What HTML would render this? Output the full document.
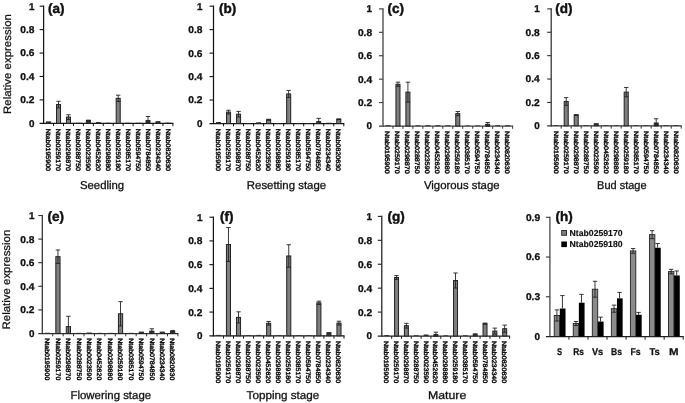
<!DOCTYPE html>
<html lang="en">
<head>
<meta charset="utf-8">
<title>Relative expression</title>
<style>
html,body{margin:0;padding:0;background:#fff;}
body{width:685px;height:403px;overflow:hidden;}
svg{display:block;font-family:'Liberation Sans', sans-serif;fill:#111;text-rendering:geometricPrecision;}
</style>
</head>
<body>
<svg width="685" height="403" viewBox="0 0 685 403" font-family="'Liberation Sans', sans-serif">
<rect x="0" y="0" width="685" height="403" fill="#ffffff"/>
<line x1="43.60" y1="5.60" x2="43.60" y2="123.90" stroke="#141414" stroke-width="1.25"/>
<line x1="39.60" y1="123.30" x2="173.40" y2="123.30" stroke="#141414" stroke-width="1.25"/>
<line x1="53.55" y1="123.30" x2="53.55" y2="126.10" stroke="#141414" stroke-width="1.0"/>
<line x1="63.49" y1="123.30" x2="63.49" y2="126.10" stroke="#141414" stroke-width="1.0"/>
<line x1="73.44" y1="123.30" x2="73.44" y2="126.10" stroke="#141414" stroke-width="1.0"/>
<line x1="83.38" y1="123.30" x2="83.38" y2="126.10" stroke="#141414" stroke-width="1.0"/>
<line x1="93.33" y1="123.30" x2="93.33" y2="126.10" stroke="#141414" stroke-width="1.0"/>
<line x1="103.28" y1="123.30" x2="103.28" y2="126.10" stroke="#141414" stroke-width="1.0"/>
<line x1="113.22" y1="123.30" x2="113.22" y2="126.10" stroke="#141414" stroke-width="1.0"/>
<line x1="123.17" y1="123.30" x2="123.17" y2="126.10" stroke="#141414" stroke-width="1.0"/>
<line x1="133.12" y1="123.30" x2="133.12" y2="126.10" stroke="#141414" stroke-width="1.0"/>
<line x1="143.06" y1="123.30" x2="143.06" y2="126.10" stroke="#141414" stroke-width="1.0"/>
<line x1="153.01" y1="123.30" x2="153.01" y2="126.10" stroke="#141414" stroke-width="1.0"/>
<line x1="162.95" y1="123.30" x2="162.95" y2="126.10" stroke="#141414" stroke-width="1.0"/>
<line x1="172.90" y1="123.30" x2="172.90" y2="126.10" stroke="#141414" stroke-width="1.0"/>
<line x1="39.60" y1="99.88" x2="43.60" y2="99.88" stroke="#141414" stroke-width="1.1"/>
<text x="20.3" y="103.3" textLength="14.2" lengthAdjust="spacingAndGlyphs" font-size="9.9" font-weight="bold" stroke="#111" stroke-width="0.3">0.2</text>
<line x1="39.60" y1="76.46" x2="43.60" y2="76.46" stroke="#141414" stroke-width="1.1"/>
<text x="20.3" y="79.9" textLength="14.2" lengthAdjust="spacingAndGlyphs" font-size="9.9" font-weight="bold" stroke="#111" stroke-width="0.3">0.4</text>
<line x1="39.60" y1="53.04" x2="43.60" y2="53.04" stroke="#141414" stroke-width="1.1"/>
<text x="20.3" y="56.4" textLength="14.2" lengthAdjust="spacingAndGlyphs" font-size="9.9" font-weight="bold" stroke="#111" stroke-width="0.3">0.6</text>
<line x1="39.60" y1="29.62" x2="43.60" y2="29.62" stroke="#141414" stroke-width="1.1"/>
<text x="20.3" y="33.0" textLength="14.2" lengthAdjust="spacingAndGlyphs" font-size="9.9" font-weight="bold" stroke="#111" stroke-width="0.3">0.8</text>
<line x1="39.60" y1="6.20" x2="43.60" y2="6.20" stroke="#141414" stroke-width="1.1"/>
<text x="34.5" y="9.6" text-anchor="end" font-size="9.9" font-weight="bold" stroke="#111" stroke-width="0.3">1</text>
<text x="34.5" y="126.7" text-anchor="end" font-size="9.9" font-weight="bold" stroke="#111" stroke-width="0.3">0</text>
<rect x="46.56" y="121.89" width="4.03" height="1.41" fill="#333" stroke="#222222" stroke-width="0.9"/>
<text transform="translate(46.17,128.70) rotate(90)" textLength="42.3" lengthAdjust="spacingAndGlyphs" font-size="6.4" stroke="#111" stroke-width="0.45">Ntab0195900</text>
<rect x="56.51" y="104.56" width="4.03" height="18.74" fill="#7f7f7f" stroke="#222222" stroke-width="1.0"/>
<line x1="58.52" y1="101.29" x2="58.52" y2="107.84" stroke="#222222" stroke-width="0.9"/>
<line x1="56.32" y1="101.29" x2="60.72" y2="101.29" stroke="#222222" stroke-width="0.9"/>
<line x1="56.32" y1="107.84" x2="60.72" y2="107.84" stroke="#222222" stroke-width="0.9"/>
<text transform="translate(56.12,128.70) rotate(90)" textLength="42.3" lengthAdjust="spacingAndGlyphs" font-size="6.4" stroke="#111" stroke-width="0.45">Ntab0259170</text>
<rect x="66.45" y="117.09" width="4.03" height="6.21" fill="#7f7f7f" stroke="#222222" stroke-width="1.0"/>
<line x1="68.47" y1="114.75" x2="68.47" y2="119.44" stroke="#222222" stroke-width="0.9"/>
<line x1="66.27" y1="114.75" x2="70.67" y2="114.75" stroke="#222222" stroke-width="0.9"/>
<line x1="66.27" y1="119.44" x2="70.67" y2="119.44" stroke="#222222" stroke-width="0.9"/>
<text transform="translate(66.07,128.70) rotate(90)" textLength="42.3" lengthAdjust="spacingAndGlyphs" font-size="6.4" stroke="#111" stroke-width="0.45">Ntab0298870</text>
<rect x="76.00" y="122.77" width="4.83" height="0.53" fill="#2a2a2a"/>
<text transform="translate(76.01,128.70) rotate(90)" textLength="42.3" lengthAdjust="spacingAndGlyphs" font-size="6.4" stroke="#111" stroke-width="0.45">Ntab0288750</text>
<rect x="86.34" y="120.49" width="4.03" height="2.81" fill="#333" stroke="#222222" stroke-width="0.9"/>
<line x1="88.36" y1="120.14" x2="88.36" y2="120.84" stroke="#222222" stroke-width="0.9"/>
<line x1="86.16" y1="120.14" x2="90.56" y2="120.14" stroke="#222222" stroke-width="0.9"/>
<line x1="86.16" y1="120.84" x2="90.56" y2="120.84" stroke="#222222" stroke-width="0.9"/>
<text transform="translate(85.96,128.70) rotate(90)" textLength="42.3" lengthAdjust="spacingAndGlyphs" font-size="6.4" stroke="#111" stroke-width="0.45">Ntab0023590</text>
<rect x="95.89" y="122.06" width="4.83" height="1.24" fill="#2a2a2a"/>
<text transform="translate(95.90,128.70) rotate(90)" textLength="42.3" lengthAdjust="spacingAndGlyphs" font-size="6.4" stroke="#111" stroke-width="0.45">Ntab0452620</text>
<rect x="105.84" y="122.77" width="4.83" height="0.53" fill="#2a2a2a"/>
<text transform="translate(105.85,128.70) rotate(90)" textLength="42.3" lengthAdjust="spacingAndGlyphs" font-size="6.4" stroke="#111" stroke-width="0.45">Ntab0298880</text>
<rect x="116.18" y="98.36" width="4.03" height="24.94" fill="#7f7f7f" stroke="#222222" stroke-width="1.0"/>
<line x1="118.20" y1="95.20" x2="118.20" y2="101.52" stroke="#222222" stroke-width="0.9"/>
<line x1="116.00" y1="95.20" x2="120.40" y2="95.20" stroke="#222222" stroke-width="0.9"/>
<line x1="116.00" y1="101.52" x2="120.40" y2="101.52" stroke="#222222" stroke-width="0.9"/>
<text transform="translate(115.80,128.70) rotate(90)" textLength="42.3" lengthAdjust="spacingAndGlyphs" font-size="6.4" stroke="#111" stroke-width="0.45">Ntab0259180</text>
<rect x="125.73" y="122.77" width="4.83" height="0.53" fill="#2a2a2a"/>
<text transform="translate(125.74,128.70) rotate(90)" textLength="42.3" lengthAdjust="spacingAndGlyphs" font-size="6.4" stroke="#111" stroke-width="0.45">Ntab0385170</text>
<rect x="135.67" y="122.77" width="4.83" height="0.53" fill="#2a2a2a"/>
<text transform="translate(135.69,128.70) rotate(90)" textLength="42.3" lengthAdjust="spacingAndGlyphs" font-size="6.4" stroke="#111" stroke-width="0.45">Ntab0594750</text>
<rect x="146.02" y="120.49" width="4.03" height="2.81" fill="#333" stroke="#222222" stroke-width="0.9"/>
<line x1="148.03" y1="116.51" x2="148.03" y2="123.30" stroke="#222222" stroke-width="0.9"/>
<line x1="145.83" y1="116.51" x2="150.23" y2="116.51" stroke="#222222" stroke-width="0.9"/>
<line x1="145.83" y1="123.30" x2="150.23" y2="123.30" stroke="#222222" stroke-width="0.9"/>
<text transform="translate(145.63,128.70) rotate(90)" textLength="42.3" lengthAdjust="spacingAndGlyphs" font-size="6.4" stroke="#111" stroke-width="0.45">Ntab0784850</text>
<rect x="155.97" y="121.66" width="4.03" height="1.64" fill="#333" stroke="#222222" stroke-width="0.9"/>
<text transform="translate(155.58,128.70) rotate(90)" textLength="42.3" lengthAdjust="spacingAndGlyphs" font-size="6.4" stroke="#111" stroke-width="0.45">Ntab0234340</text>
<rect x="165.51" y="122.65" width="4.83" height="0.65" fill="#2a2a2a"/>
<text transform="translate(165.53,128.70) rotate(90)" textLength="42.3" lengthAdjust="spacingAndGlyphs" font-size="6.4" stroke="#111" stroke-width="0.45">Ntab0820630</text>
<text x="47.9" y="13.0" font-size="13.5" font-weight="bold" stroke="#111" stroke-width="0.45">(a)</text>
<text x="79.9" y="188.8" textLength="44.3" lengthAdjust="spacingAndGlyphs" font-size="11.4" stroke="#111" stroke-width="0.3">Seedling</text>
<line x1="213.50" y1="5.60" x2="213.50" y2="124.10" stroke="#141414" stroke-width="1.25"/>
<line x1="209.50" y1="123.50" x2="344.30" y2="123.50" stroke="#141414" stroke-width="1.25"/>
<line x1="223.52" y1="123.50" x2="223.52" y2="126.30" stroke="#141414" stroke-width="1.0"/>
<line x1="233.55" y1="123.50" x2="233.55" y2="126.30" stroke="#141414" stroke-width="1.0"/>
<line x1="243.57" y1="123.50" x2="243.57" y2="126.30" stroke="#141414" stroke-width="1.0"/>
<line x1="253.59" y1="123.50" x2="253.59" y2="126.30" stroke="#141414" stroke-width="1.0"/>
<line x1="263.62" y1="123.50" x2="263.62" y2="126.30" stroke="#141414" stroke-width="1.0"/>
<line x1="273.64" y1="123.50" x2="273.64" y2="126.30" stroke="#141414" stroke-width="1.0"/>
<line x1="283.66" y1="123.50" x2="283.66" y2="126.30" stroke="#141414" stroke-width="1.0"/>
<line x1="293.68" y1="123.50" x2="293.68" y2="126.30" stroke="#141414" stroke-width="1.0"/>
<line x1="303.71" y1="123.50" x2="303.71" y2="126.30" stroke="#141414" stroke-width="1.0"/>
<line x1="313.73" y1="123.50" x2="313.73" y2="126.30" stroke="#141414" stroke-width="1.0"/>
<line x1="323.75" y1="123.50" x2="323.75" y2="126.30" stroke="#141414" stroke-width="1.0"/>
<line x1="333.78" y1="123.50" x2="333.78" y2="126.30" stroke="#141414" stroke-width="1.0"/>
<line x1="343.80" y1="123.50" x2="343.80" y2="126.30" stroke="#141414" stroke-width="1.0"/>
<line x1="209.50" y1="100.04" x2="213.50" y2="100.04" stroke="#141414" stroke-width="1.1"/>
<text x="188.3" y="103.4" textLength="14.2" lengthAdjust="spacingAndGlyphs" font-size="9.9" font-weight="bold" stroke="#111" stroke-width="0.3">0.2</text>
<line x1="209.50" y1="76.58" x2="213.50" y2="76.58" stroke="#141414" stroke-width="1.1"/>
<text x="188.3" y="80.0" textLength="14.2" lengthAdjust="spacingAndGlyphs" font-size="9.9" font-weight="bold" stroke="#111" stroke-width="0.3">0.4</text>
<line x1="209.50" y1="53.12" x2="213.50" y2="53.12" stroke="#141414" stroke-width="1.1"/>
<text x="188.3" y="56.5" textLength="14.2" lengthAdjust="spacingAndGlyphs" font-size="9.9" font-weight="bold" stroke="#111" stroke-width="0.3">0.6</text>
<line x1="209.50" y1="29.66" x2="213.50" y2="29.66" stroke="#141414" stroke-width="1.1"/>
<text x="188.3" y="33.1" textLength="14.2" lengthAdjust="spacingAndGlyphs" font-size="9.9" font-weight="bold" stroke="#111" stroke-width="0.3">0.8</text>
<line x1="209.50" y1="6.20" x2="213.50" y2="6.20" stroke="#141414" stroke-width="1.1"/>
<text x="202.5" y="9.6" text-anchor="end" font-size="9.9" font-weight="bold" stroke="#111" stroke-width="0.3">1</text>
<text x="202.5" y="126.9" text-anchor="end" font-size="9.9" font-weight="bold" stroke="#111" stroke-width="0.3">0</text>
<rect x="216.08" y="122.03" width="4.86" height="1.47" fill="#2a2a2a"/>
<text transform="translate(216.11,128.70) rotate(90)" textLength="42.3" lengthAdjust="spacingAndGlyphs" font-size="6.4" stroke="#111" stroke-width="0.45">Ntab0195900</text>
<rect x="226.50" y="112.12" width="4.06" height="11.38" fill="#7f7f7f" stroke="#222222" stroke-width="1.0"/>
<line x1="228.53" y1="110.25" x2="228.53" y2="114.00" stroke="#222222" stroke-width="0.9"/>
<line x1="226.33" y1="110.25" x2="230.73" y2="110.25" stroke="#222222" stroke-width="0.9"/>
<line x1="226.33" y1="114.00" x2="230.73" y2="114.00" stroke="#222222" stroke-width="0.9"/>
<text transform="translate(226.13,128.70) rotate(90)" textLength="42.3" lengthAdjust="spacingAndGlyphs" font-size="6.4" stroke="#111" stroke-width="0.45">Ntab0259170</text>
<rect x="236.53" y="114.23" width="4.06" height="9.27" fill="#7f7f7f" stroke="#222222" stroke-width="1.0"/>
<line x1="238.56" y1="111.42" x2="238.56" y2="117.05" stroke="#222222" stroke-width="0.9"/>
<line x1="236.36" y1="111.42" x2="240.76" y2="111.42" stroke="#222222" stroke-width="0.9"/>
<line x1="236.36" y1="117.05" x2="240.76" y2="117.05" stroke="#222222" stroke-width="0.9"/>
<text transform="translate(236.16,128.70) rotate(90)" textLength="42.3" lengthAdjust="spacingAndGlyphs" font-size="6.4" stroke="#111" stroke-width="0.45">Ntab0298870</text>
<rect x="246.15" y="122.97" width="4.86" height="0.53" fill="#2a2a2a"/>
<text transform="translate(246.18,128.70) rotate(90)" textLength="42.3" lengthAdjust="spacingAndGlyphs" font-size="6.4" stroke="#111" stroke-width="0.45">Ntab0288750</text>
<rect x="256.17" y="122.26" width="4.86" height="1.24" fill="#2a2a2a"/>
<text transform="translate(256.20,128.70) rotate(90)" textLength="42.3" lengthAdjust="spacingAndGlyphs" font-size="6.4" stroke="#111" stroke-width="0.45">Ntab0452620</text>
<rect x="266.60" y="119.75" width="4.06" height="3.75" fill="#7f7f7f" stroke="#222222" stroke-width="1.0"/>
<line x1="268.63" y1="119.28" x2="268.63" y2="120.22" stroke="#222222" stroke-width="0.9"/>
<line x1="266.43" y1="119.28" x2="270.83" y2="119.28" stroke="#222222" stroke-width="0.9"/>
<line x1="266.43" y1="120.22" x2="270.83" y2="120.22" stroke="#222222" stroke-width="0.9"/>
<text transform="translate(266.23,128.70) rotate(90)" textLength="42.3" lengthAdjust="spacingAndGlyphs" font-size="6.4" stroke="#111" stroke-width="0.45">Ntab0023590</text>
<rect x="276.22" y="122.97" width="4.86" height="0.53" fill="#2a2a2a"/>
<text transform="translate(276.25,128.70) rotate(90)" textLength="42.3" lengthAdjust="spacingAndGlyphs" font-size="6.4" stroke="#111" stroke-width="0.45">Ntab0298880</text>
<rect x="286.64" y="93.94" width="4.06" height="29.56" fill="#7f7f7f" stroke="#222222" stroke-width="1.0"/>
<line x1="288.67" y1="90.42" x2="288.67" y2="97.46" stroke="#222222" stroke-width="0.9"/>
<line x1="286.47" y1="90.42" x2="290.87" y2="90.42" stroke="#222222" stroke-width="0.9"/>
<line x1="286.47" y1="97.46" x2="290.87" y2="97.46" stroke="#222222" stroke-width="0.9"/>
<text transform="translate(286.27,128.70) rotate(90)" textLength="42.3" lengthAdjust="spacingAndGlyphs" font-size="6.4" stroke="#111" stroke-width="0.45">Ntab0259180</text>
<rect x="296.27" y="122.97" width="4.86" height="0.53" fill="#2a2a2a"/>
<text transform="translate(296.30,128.70) rotate(90)" textLength="42.3" lengthAdjust="spacingAndGlyphs" font-size="6.4" stroke="#111" stroke-width="0.45">Ntab0385170</text>
<rect x="306.29" y="122.97" width="4.86" height="0.53" fill="#2a2a2a"/>
<text transform="translate(306.32,128.70) rotate(90)" textLength="42.3" lengthAdjust="spacingAndGlyphs" font-size="6.4" stroke="#111" stroke-width="0.45">Ntab0594750</text>
<rect x="316.71" y="121.62" width="4.06" height="1.88" fill="#333" stroke="#222222" stroke-width="0.9"/>
<line x1="318.74" y1="118.34" x2="318.74" y2="123.50" stroke="#222222" stroke-width="0.9"/>
<line x1="316.54" y1="118.34" x2="320.94" y2="118.34" stroke="#222222" stroke-width="0.9"/>
<line x1="316.54" y1="123.50" x2="320.94" y2="123.50" stroke="#222222" stroke-width="0.9"/>
<text transform="translate(316.34,128.70) rotate(90)" textLength="42.3" lengthAdjust="spacingAndGlyphs" font-size="6.4" stroke="#111" stroke-width="0.45">Ntab0784850</text>
<rect x="326.34" y="122.73" width="4.86" height="0.77" fill="#2a2a2a"/>
<text transform="translate(326.37,128.70) rotate(90)" textLength="42.3" lengthAdjust="spacingAndGlyphs" font-size="6.4" stroke="#111" stroke-width="0.45">Ntab0234340</text>
<rect x="336.76" y="119.28" width="4.06" height="4.22" fill="#7f7f7f" stroke="#222222" stroke-width="1.0"/>
<line x1="338.79" y1="118.93" x2="338.79" y2="119.63" stroke="#222222" stroke-width="0.9"/>
<line x1="336.59" y1="118.93" x2="340.99" y2="118.93" stroke="#222222" stroke-width="0.9"/>
<line x1="336.59" y1="119.63" x2="340.99" y2="119.63" stroke="#222222" stroke-width="0.9"/>
<text transform="translate(336.39,128.70) rotate(90)" textLength="42.3" lengthAdjust="spacingAndGlyphs" font-size="6.4" stroke="#111" stroke-width="0.45">Ntab0820630</text>
<text x="218.9" y="13.0" font-size="13.5" font-weight="bold" stroke="#111" stroke-width="0.45">(b)</text>
<text x="246.8" y="188.8" textLength="79.3" lengthAdjust="spacingAndGlyphs" font-size="11.4" stroke="#111" stroke-width="0.3">Resetting stage</text>
<line x1="383.00" y1="8.30" x2="383.00" y2="126.60" stroke="#3a3a3a" stroke-width="1.25"/>
<line x1="379.00" y1="126.00" x2="513.10" y2="126.00" stroke="#3a3a3a" stroke-width="1.25"/>
<line x1="392.97" y1="126.00" x2="392.97" y2="128.80" stroke="#3a3a3a" stroke-width="1.0"/>
<line x1="402.94" y1="126.00" x2="402.94" y2="128.80" stroke="#3a3a3a" stroke-width="1.0"/>
<line x1="412.91" y1="126.00" x2="412.91" y2="128.80" stroke="#3a3a3a" stroke-width="1.0"/>
<line x1="422.88" y1="126.00" x2="422.88" y2="128.80" stroke="#3a3a3a" stroke-width="1.0"/>
<line x1="432.85" y1="126.00" x2="432.85" y2="128.80" stroke="#3a3a3a" stroke-width="1.0"/>
<line x1="442.82" y1="126.00" x2="442.82" y2="128.80" stroke="#3a3a3a" stroke-width="1.0"/>
<line x1="452.78" y1="126.00" x2="452.78" y2="128.80" stroke="#3a3a3a" stroke-width="1.0"/>
<line x1="462.75" y1="126.00" x2="462.75" y2="128.80" stroke="#3a3a3a" stroke-width="1.0"/>
<line x1="472.72" y1="126.00" x2="472.72" y2="128.80" stroke="#3a3a3a" stroke-width="1.0"/>
<line x1="482.69" y1="126.00" x2="482.69" y2="128.80" stroke="#3a3a3a" stroke-width="1.0"/>
<line x1="492.66" y1="126.00" x2="492.66" y2="128.80" stroke="#3a3a3a" stroke-width="1.0"/>
<line x1="502.63" y1="126.00" x2="502.63" y2="128.80" stroke="#3a3a3a" stroke-width="1.0"/>
<line x1="512.60" y1="126.00" x2="512.60" y2="128.80" stroke="#3a3a3a" stroke-width="1.0"/>
<line x1="379.00" y1="102.58" x2="383.00" y2="102.58" stroke="#3a3a3a" stroke-width="1.1"/>
<text x="357.9" y="106.0" textLength="14.2" lengthAdjust="spacingAndGlyphs" font-size="9.9" font-weight="bold" stroke="#111" stroke-width="0.3">0.2</text>
<line x1="379.00" y1="79.16" x2="383.00" y2="79.16" stroke="#3a3a3a" stroke-width="1.1"/>
<text x="357.9" y="82.6" textLength="14.2" lengthAdjust="spacingAndGlyphs" font-size="9.9" font-weight="bold" stroke="#111" stroke-width="0.3">0.4</text>
<line x1="379.00" y1="55.74" x2="383.00" y2="55.74" stroke="#3a3a3a" stroke-width="1.1"/>
<text x="357.9" y="59.1" textLength="14.2" lengthAdjust="spacingAndGlyphs" font-size="9.9" font-weight="bold" stroke="#111" stroke-width="0.3">0.6</text>
<line x1="379.00" y1="32.32" x2="383.00" y2="32.32" stroke="#3a3a3a" stroke-width="1.1"/>
<text x="357.9" y="35.7" textLength="14.2" lengthAdjust="spacingAndGlyphs" font-size="9.9" font-weight="bold" stroke="#111" stroke-width="0.3">0.8</text>
<line x1="379.00" y1="8.90" x2="383.00" y2="8.90" stroke="#3a3a3a" stroke-width="1.1"/>
<text x="372.1" y="12.3" text-anchor="end" font-size="9.9" font-weight="bold" stroke="#111" stroke-width="0.3">1</text>
<text x="372.1" y="129.4" text-anchor="end" font-size="9.9" font-weight="bold" stroke="#111" stroke-width="0.3">0</text>
<rect x="385.57" y="125.23" width="4.84" height="0.77" fill="#2a2a2a"/>
<text transform="translate(385.48,131.10) rotate(90)" textLength="42.5" lengthAdjust="spacingAndGlyphs" font-size="6.4" stroke="#111" stroke-width="0.45">Ntab0195900</text>
<rect x="395.94" y="84.31" width="4.04" height="41.69" fill="#7f7f7f" stroke="#222222" stroke-width="1.0"/>
<line x1="397.95" y1="82.20" x2="397.95" y2="86.42" stroke="#222222" stroke-width="0.9"/>
<line x1="395.75" y1="82.20" x2="400.15" y2="82.20" stroke="#222222" stroke-width="0.9"/>
<line x1="395.75" y1="86.42" x2="400.15" y2="86.42" stroke="#222222" stroke-width="0.9"/>
<text transform="translate(395.45,131.10) rotate(90)" textLength="42.5" lengthAdjust="spacingAndGlyphs" font-size="6.4" stroke="#111" stroke-width="0.45">Ntab0259170</text>
<rect x="405.90" y="92.16" width="4.04" height="33.84" fill="#7f7f7f" stroke="#222222" stroke-width="1.0"/>
<line x1="407.92" y1="82.20" x2="407.92" y2="102.11" stroke="#222222" stroke-width="0.9"/>
<line x1="405.72" y1="82.20" x2="410.12" y2="82.20" stroke="#222222" stroke-width="0.9"/>
<line x1="405.72" y1="102.11" x2="410.12" y2="102.11" stroke="#222222" stroke-width="0.9"/>
<text transform="translate(405.42,131.10) rotate(90)" textLength="42.5" lengthAdjust="spacingAndGlyphs" font-size="6.4" stroke="#111" stroke-width="0.45">Ntab0298870</text>
<rect x="415.47" y="125.35" width="4.84" height="0.65" fill="#2a2a2a"/>
<text transform="translate(415.39,131.10) rotate(90)" textLength="42.5" lengthAdjust="spacingAndGlyphs" font-size="6.4" stroke="#111" stroke-width="0.45">Ntab0288750</text>
<rect x="425.44" y="125.23" width="4.84" height="0.77" fill="#2a2a2a"/>
<text transform="translate(425.36,131.10) rotate(90)" textLength="42.5" lengthAdjust="spacingAndGlyphs" font-size="6.4" stroke="#111" stroke-width="0.45">Ntab0023590</text>
<rect x="435.41" y="125.23" width="4.84" height="0.77" fill="#2a2a2a"/>
<text transform="translate(435.33,131.10) rotate(90)" textLength="42.5" lengthAdjust="spacingAndGlyphs" font-size="6.4" stroke="#111" stroke-width="0.45">Ntab0452620</text>
<rect x="445.38" y="125.35" width="4.84" height="0.65" fill="#2a2a2a"/>
<text transform="translate(445.30,131.10) rotate(90)" textLength="42.5" lengthAdjust="spacingAndGlyphs" font-size="6.4" stroke="#111" stroke-width="0.45">Ntab0298880</text>
<rect x="455.75" y="113.59" width="4.04" height="12.41" fill="#7f7f7f" stroke="#222222" stroke-width="1.0"/>
<line x1="457.77" y1="111.48" x2="457.77" y2="115.70" stroke="#222222" stroke-width="0.9"/>
<line x1="455.57" y1="111.48" x2="459.97" y2="111.48" stroke="#222222" stroke-width="0.9"/>
<line x1="455.57" y1="115.70" x2="459.97" y2="115.70" stroke="#222222" stroke-width="0.9"/>
<text transform="translate(455.27,131.10) rotate(90)" textLength="42.5" lengthAdjust="spacingAndGlyphs" font-size="6.4" stroke="#111" stroke-width="0.45">Ntab0259180</text>
<rect x="465.32" y="125.47" width="4.84" height="0.53" fill="#2a2a2a"/>
<text transform="translate(465.24,131.10) rotate(90)" textLength="42.5" lengthAdjust="spacingAndGlyphs" font-size="6.4" stroke="#111" stroke-width="0.45">Ntab0385170</text>
<rect x="475.29" y="125.47" width="4.84" height="0.53" fill="#2a2a2a"/>
<text transform="translate(475.21,131.10) rotate(90)" textLength="42.5" lengthAdjust="spacingAndGlyphs" font-size="6.4" stroke="#111" stroke-width="0.45">Ntab0594750</text>
<rect x="485.66" y="124.24" width="4.04" height="1.76" fill="#333" stroke="#222222" stroke-width="0.9"/>
<line x1="487.68" y1="122.49" x2="487.68" y2="126.00" stroke="#222222" stroke-width="0.9"/>
<line x1="485.48" y1="122.49" x2="489.88" y2="122.49" stroke="#222222" stroke-width="0.9"/>
<line x1="485.48" y1="126.00" x2="489.88" y2="126.00" stroke="#222222" stroke-width="0.9"/>
<text transform="translate(485.18,131.10) rotate(90)" textLength="42.5" lengthAdjust="spacingAndGlyphs" font-size="6.4" stroke="#111" stroke-width="0.45">Ntab0784850</text>
<rect x="495.23" y="125.23" width="4.84" height="0.77" fill="#2a2a2a"/>
<text transform="translate(495.15,131.10) rotate(90)" textLength="42.5" lengthAdjust="spacingAndGlyphs" font-size="6.4" stroke="#111" stroke-width="0.45">Ntab0234340</text>
<rect x="505.20" y="125.23" width="4.84" height="0.77" fill="#2a2a2a"/>
<text transform="translate(505.12,131.10) rotate(90)" textLength="42.5" lengthAdjust="spacingAndGlyphs" font-size="6.4" stroke="#111" stroke-width="0.45">Ntab0820630</text>
<text x="387.6" y="13.0" font-size="13.5" font-weight="bold" stroke="#111" stroke-width="0.45">(c)</text>
<text x="423.9" y="188.8" textLength="75.7" lengthAdjust="spacingAndGlyphs" font-size="11.4" stroke="#111" stroke-width="0.3">Vigorous stage</text>
<line x1="551.20" y1="8.30" x2="551.20" y2="126.40" stroke="#303030" stroke-width="1.25"/>
<line x1="547.20" y1="125.80" x2="681.70" y2="125.80" stroke="#303030" stroke-width="1.25"/>
<line x1="561.20" y1="125.80" x2="561.20" y2="128.60" stroke="#303030" stroke-width="1.0"/>
<line x1="571.20" y1="125.80" x2="571.20" y2="128.60" stroke="#303030" stroke-width="1.0"/>
<line x1="581.20" y1="125.80" x2="581.20" y2="128.60" stroke="#303030" stroke-width="1.0"/>
<line x1="591.20" y1="125.80" x2="591.20" y2="128.60" stroke="#303030" stroke-width="1.0"/>
<line x1="601.20" y1="125.80" x2="601.20" y2="128.60" stroke="#303030" stroke-width="1.0"/>
<line x1="611.20" y1="125.80" x2="611.20" y2="128.60" stroke="#303030" stroke-width="1.0"/>
<line x1="621.20" y1="125.80" x2="621.20" y2="128.60" stroke="#303030" stroke-width="1.0"/>
<line x1="631.20" y1="125.80" x2="631.20" y2="128.60" stroke="#303030" stroke-width="1.0"/>
<line x1="641.20" y1="125.80" x2="641.20" y2="128.60" stroke="#303030" stroke-width="1.0"/>
<line x1="651.20" y1="125.80" x2="651.20" y2="128.60" stroke="#303030" stroke-width="1.0"/>
<line x1="661.20" y1="125.80" x2="661.20" y2="128.60" stroke="#303030" stroke-width="1.0"/>
<line x1="671.20" y1="125.80" x2="671.20" y2="128.60" stroke="#303030" stroke-width="1.0"/>
<line x1="681.20" y1="125.80" x2="681.20" y2="128.60" stroke="#303030" stroke-width="1.0"/>
<line x1="547.20" y1="102.42" x2="551.20" y2="102.42" stroke="#303030" stroke-width="1.1"/>
<text x="525.6" y="105.8" textLength="14.2" lengthAdjust="spacingAndGlyphs" font-size="9.9" font-weight="bold" stroke="#111" stroke-width="0.3">0.2</text>
<line x1="547.20" y1="79.04" x2="551.20" y2="79.04" stroke="#303030" stroke-width="1.1"/>
<text x="525.6" y="82.4" textLength="14.2" lengthAdjust="spacingAndGlyphs" font-size="9.9" font-weight="bold" stroke="#111" stroke-width="0.3">0.4</text>
<line x1="547.20" y1="55.66" x2="551.20" y2="55.66" stroke="#303030" stroke-width="1.1"/>
<text x="525.6" y="59.1" textLength="14.2" lengthAdjust="spacingAndGlyphs" font-size="9.9" font-weight="bold" stroke="#111" stroke-width="0.3">0.6</text>
<line x1="547.20" y1="32.28" x2="551.20" y2="32.28" stroke="#303030" stroke-width="1.1"/>
<text x="525.6" y="35.7" textLength="14.2" lengthAdjust="spacingAndGlyphs" font-size="9.9" font-weight="bold" stroke="#111" stroke-width="0.3">0.8</text>
<line x1="547.20" y1="8.90" x2="551.20" y2="8.90" stroke="#303030" stroke-width="1.1"/>
<text x="539.8" y="12.3" text-anchor="end" font-size="9.9" font-weight="bold" stroke="#111" stroke-width="0.3">1</text>
<text x="539.8" y="129.2" text-anchor="end" font-size="9.9" font-weight="bold" stroke="#111" stroke-width="0.3">0</text>
<rect x="553.78" y="125.15" width="4.85" height="0.65" fill="#2a2a2a"/>
<text transform="translate(553.70,131.10) rotate(90)" textLength="42.5" lengthAdjust="spacingAndGlyphs" font-size="6.4" stroke="#111" stroke-width="0.45">Ntab0195900</text>
<rect x="564.18" y="101.48" width="4.05" height="24.32" fill="#7f7f7f" stroke="#222222" stroke-width="1.0"/>
<line x1="566.20" y1="97.63" x2="566.20" y2="105.34" stroke="#222222" stroke-width="0.9"/>
<line x1="564.00" y1="97.63" x2="568.40" y2="97.63" stroke="#222222" stroke-width="0.9"/>
<line x1="564.00" y1="105.34" x2="568.40" y2="105.34" stroke="#222222" stroke-width="0.9"/>
<text transform="translate(563.70,131.10) rotate(90)" textLength="42.5" lengthAdjust="spacingAndGlyphs" font-size="6.4" stroke="#111" stroke-width="0.45">Ntab0259170</text>
<rect x="574.18" y="115.05" width="4.05" height="10.75" fill="#7f7f7f" stroke="#222222" stroke-width="1.0"/>
<line x1="576.20" y1="114.58" x2="576.20" y2="115.51" stroke="#222222" stroke-width="0.9"/>
<line x1="574.00" y1="114.58" x2="578.40" y2="114.58" stroke="#222222" stroke-width="0.9"/>
<line x1="574.00" y1="115.51" x2="578.40" y2="115.51" stroke="#222222" stroke-width="0.9"/>
<text transform="translate(573.70,131.10) rotate(90)" textLength="42.5" lengthAdjust="spacingAndGlyphs" font-size="6.4" stroke="#111" stroke-width="0.45">Ntab0298870</text>
<rect x="583.78" y="125.15" width="4.85" height="0.65" fill="#2a2a2a"/>
<text transform="translate(583.70,131.10) rotate(90)" textLength="42.5" lengthAdjust="spacingAndGlyphs" font-size="6.4" stroke="#111" stroke-width="0.45">Ntab0288750</text>
<rect x="594.18" y="123.70" width="4.05" height="2.10" fill="#333" stroke="#222222" stroke-width="0.9"/>
<text transform="translate(593.70,131.10) rotate(90)" textLength="42.5" lengthAdjust="spacingAndGlyphs" font-size="6.4" stroke="#111" stroke-width="0.45">Ntab0023590</text>
<rect x="603.78" y="125.15" width="4.85" height="0.65" fill="#2a2a2a"/>
<text transform="translate(603.70,131.10) rotate(90)" textLength="42.5" lengthAdjust="spacingAndGlyphs" font-size="6.4" stroke="#111" stroke-width="0.45">Ntab0452620</text>
<rect x="613.78" y="125.15" width="4.85" height="0.65" fill="#2a2a2a"/>
<text transform="translate(613.70,131.10) rotate(90)" textLength="42.5" lengthAdjust="spacingAndGlyphs" font-size="6.4" stroke="#111" stroke-width="0.45">Ntab0298880</text>
<rect x="624.18" y="92.13" width="4.05" height="33.67" fill="#7f7f7f" stroke="#222222" stroke-width="1.0"/>
<line x1="626.20" y1="87.46" x2="626.20" y2="96.81" stroke="#222222" stroke-width="0.9"/>
<line x1="624.00" y1="87.46" x2="628.40" y2="87.46" stroke="#222222" stroke-width="0.9"/>
<line x1="624.00" y1="96.81" x2="628.40" y2="96.81" stroke="#222222" stroke-width="0.9"/>
<text transform="translate(623.70,131.10) rotate(90)" textLength="42.5" lengthAdjust="spacingAndGlyphs" font-size="6.4" stroke="#111" stroke-width="0.45">Ntab0259180</text>
<rect x="633.78" y="125.15" width="4.85" height="0.65" fill="#2a2a2a"/>
<text transform="translate(633.70,131.10) rotate(90)" textLength="42.5" lengthAdjust="spacingAndGlyphs" font-size="6.4" stroke="#111" stroke-width="0.45">Ntab0385170</text>
<rect x="643.78" y="125.15" width="4.85" height="0.65" fill="#2a2a2a"/>
<text transform="translate(643.70,131.10) rotate(90)" textLength="42.5" lengthAdjust="spacingAndGlyphs" font-size="6.4" stroke="#111" stroke-width="0.45">Ntab0594750</text>
<rect x="654.18" y="122.99" width="4.05" height="2.81" fill="#333" stroke="#222222" stroke-width="0.9"/>
<line x1="656.20" y1="118.79" x2="656.20" y2="125.80" stroke="#222222" stroke-width="0.9"/>
<line x1="654.00" y1="118.79" x2="658.40" y2="118.79" stroke="#222222" stroke-width="0.9"/>
<line x1="654.00" y1="125.80" x2="658.40" y2="125.80" stroke="#222222" stroke-width="0.9"/>
<text transform="translate(653.70,131.10) rotate(90)" textLength="42.5" lengthAdjust="spacingAndGlyphs" font-size="6.4" stroke="#111" stroke-width="0.45">Ntab0784850</text>
<rect x="663.78" y="125.15" width="4.85" height="0.65" fill="#2a2a2a"/>
<text transform="translate(663.70,131.10) rotate(90)" textLength="42.5" lengthAdjust="spacingAndGlyphs" font-size="6.4" stroke="#111" stroke-width="0.45">Ntab0234340</text>
<rect x="673.78" y="125.03" width="4.85" height="0.77" fill="#2a2a2a"/>
<text transform="translate(673.70,131.10) rotate(90)" textLength="42.5" lengthAdjust="spacingAndGlyphs" font-size="6.4" stroke="#111" stroke-width="0.45">Ntab0820630</text>
<text x="555.2" y="13.0" font-size="13.5" font-weight="bold" stroke="#111" stroke-width="0.45">(d)</text>
<text x="597.1" y="188.8" textLength="49.5" lengthAdjust="spacingAndGlyphs" font-size="11.4" stroke="#111" stroke-width="0.3">Bud stage</text>
<line x1="42.30" y1="214.90" x2="42.30" y2="334.10" stroke="#303030" stroke-width="1.25"/>
<line x1="38.30" y1="333.50" x2="178.40" y2="333.50" stroke="#303030" stroke-width="1.25"/>
<line x1="52.73" y1="333.50" x2="52.73" y2="336.30" stroke="#303030" stroke-width="1.0"/>
<line x1="63.16" y1="333.50" x2="63.16" y2="336.30" stroke="#303030" stroke-width="1.0"/>
<line x1="73.59" y1="333.50" x2="73.59" y2="336.30" stroke="#303030" stroke-width="1.0"/>
<line x1="84.02" y1="333.50" x2="84.02" y2="336.30" stroke="#303030" stroke-width="1.0"/>
<line x1="94.45" y1="333.50" x2="94.45" y2="336.30" stroke="#303030" stroke-width="1.0"/>
<line x1="104.88" y1="333.50" x2="104.88" y2="336.30" stroke="#303030" stroke-width="1.0"/>
<line x1="115.32" y1="333.50" x2="115.32" y2="336.30" stroke="#303030" stroke-width="1.0"/>
<line x1="125.75" y1="333.50" x2="125.75" y2="336.30" stroke="#303030" stroke-width="1.0"/>
<line x1="136.18" y1="333.50" x2="136.18" y2="336.30" stroke="#303030" stroke-width="1.0"/>
<line x1="146.61" y1="333.50" x2="146.61" y2="336.30" stroke="#303030" stroke-width="1.0"/>
<line x1="157.04" y1="333.50" x2="157.04" y2="336.30" stroke="#303030" stroke-width="1.0"/>
<line x1="167.47" y1="333.50" x2="167.47" y2="336.30" stroke="#303030" stroke-width="1.0"/>
<line x1="177.90" y1="333.50" x2="177.90" y2="336.30" stroke="#303030" stroke-width="1.0"/>
<line x1="38.30" y1="309.90" x2="42.30" y2="309.90" stroke="#303030" stroke-width="1.1"/>
<text x="20.3" y="313.3" textLength="14.2" lengthAdjust="spacingAndGlyphs" font-size="9.9" font-weight="bold" stroke="#111" stroke-width="0.3">0.2</text>
<line x1="38.30" y1="286.30" x2="42.30" y2="286.30" stroke="#303030" stroke-width="1.1"/>
<text x="20.3" y="289.7" textLength="14.2" lengthAdjust="spacingAndGlyphs" font-size="9.9" font-weight="bold" stroke="#111" stroke-width="0.3">0.4</text>
<line x1="38.30" y1="262.70" x2="42.30" y2="262.70" stroke="#303030" stroke-width="1.1"/>
<text x="20.3" y="266.1" textLength="14.2" lengthAdjust="spacingAndGlyphs" font-size="9.9" font-weight="bold" stroke="#111" stroke-width="0.3">0.6</text>
<line x1="38.30" y1="239.10" x2="42.30" y2="239.10" stroke="#303030" stroke-width="1.1"/>
<text x="20.3" y="242.5" textLength="14.2" lengthAdjust="spacingAndGlyphs" font-size="9.9" font-weight="bold" stroke="#111" stroke-width="0.3">0.8</text>
<line x1="38.30" y1="215.50" x2="42.30" y2="215.50" stroke="#303030" stroke-width="1.1"/>
<text x="34.5" y="218.9" text-anchor="end" font-size="9.9" font-weight="bold" stroke="#111" stroke-width="0.3">1</text>
<text x="34.5" y="336.9" text-anchor="end" font-size="9.9" font-weight="bold" stroke="#111" stroke-width="0.3">0</text>
<rect x="45.00" y="332.73" width="5.02" height="0.77" fill="#2a2a2a"/>
<text transform="translate(45.32,338.30) rotate(90)" textLength="42.0" lengthAdjust="spacingAndGlyphs" font-size="6.4" stroke="#111" stroke-width="0.45">Ntab0195900</text>
<rect x="55.83" y="256.68" width="4.22" height="76.82" fill="#7f7f7f" stroke="#222222" stroke-width="1.0"/>
<line x1="57.95" y1="249.96" x2="57.95" y2="263.41" stroke="#222222" stroke-width="0.9"/>
<line x1="55.75" y1="249.96" x2="60.15" y2="249.96" stroke="#222222" stroke-width="0.9"/>
<line x1="55.75" y1="263.41" x2="60.15" y2="263.41" stroke="#222222" stroke-width="0.9"/>
<text transform="translate(55.75,338.30) rotate(90)" textLength="42.0" lengthAdjust="spacingAndGlyphs" font-size="6.4" stroke="#111" stroke-width="0.45">Ntab0259170</text>
<rect x="66.26" y="326.66" width="4.22" height="6.84" fill="#7f7f7f" stroke="#222222" stroke-width="1.0"/>
<line x1="68.38" y1="316.27" x2="68.38" y2="333.50" stroke="#222222" stroke-width="0.9"/>
<line x1="66.18" y1="316.27" x2="70.58" y2="316.27" stroke="#222222" stroke-width="0.9"/>
<line x1="66.18" y1="333.50" x2="70.58" y2="333.50" stroke="#222222" stroke-width="0.9"/>
<text transform="translate(66.18,338.30) rotate(90)" textLength="42.0" lengthAdjust="spacingAndGlyphs" font-size="6.4" stroke="#111" stroke-width="0.45">Ntab0298870</text>
<rect x="76.30" y="332.85" width="5.02" height="0.65" fill="#2a2a2a"/>
<text transform="translate(76.61,338.30) rotate(90)" textLength="42.0" lengthAdjust="spacingAndGlyphs" font-size="6.4" stroke="#111" stroke-width="0.45">Ntab0288750</text>
<rect x="86.73" y="332.49" width="5.02" height="1.01" fill="#2a2a2a"/>
<text transform="translate(87.04,338.30) rotate(90)" textLength="42.0" lengthAdjust="spacingAndGlyphs" font-size="6.4" stroke="#111" stroke-width="0.45">Ntab0023590</text>
<rect x="97.16" y="332.85" width="5.02" height="0.65" fill="#2a2a2a"/>
<text transform="translate(97.47,338.30) rotate(90)" textLength="42.0" lengthAdjust="spacingAndGlyphs" font-size="6.4" stroke="#111" stroke-width="0.45">Ntab0452620</text>
<rect x="107.59" y="332.85" width="5.02" height="0.65" fill="#2a2a2a"/>
<text transform="translate(107.90,338.30) rotate(90)" textLength="42.0" lengthAdjust="spacingAndGlyphs" font-size="6.4" stroke="#111" stroke-width="0.45">Ntab0298880</text>
<rect x="118.42" y="313.79" width="4.22" height="19.71" fill="#7f7f7f" stroke="#222222" stroke-width="1.0"/>
<line x1="120.53" y1="301.64" x2="120.53" y2="325.95" stroke="#222222" stroke-width="0.9"/>
<line x1="118.33" y1="301.64" x2="122.73" y2="301.64" stroke="#222222" stroke-width="0.9"/>
<line x1="118.33" y1="325.95" x2="122.73" y2="325.95" stroke="#222222" stroke-width="0.9"/>
<text transform="translate(118.33,338.30) rotate(90)" textLength="42.0" lengthAdjust="spacingAndGlyphs" font-size="6.4" stroke="#111" stroke-width="0.45">Ntab0259180</text>
<rect x="128.45" y="332.85" width="5.02" height="0.65" fill="#2a2a2a"/>
<text transform="translate(128.76,338.30) rotate(90)" textLength="42.0" lengthAdjust="spacingAndGlyphs" font-size="6.4" stroke="#111" stroke-width="0.45">Ntab0385170</text>
<rect x="139.28" y="332.08" width="4.22" height="1.42" fill="#333" stroke="#222222" stroke-width="0.9"/>
<text transform="translate(139.19,338.30) rotate(90)" textLength="42.0" lengthAdjust="spacingAndGlyphs" font-size="6.4" stroke="#111" stroke-width="0.45">Ntab0594750</text>
<rect x="149.71" y="331.14" width="4.22" height="2.36" fill="#333" stroke="#222222" stroke-width="0.9"/>
<line x1="151.82" y1="328.78" x2="151.82" y2="333.50" stroke="#222222" stroke-width="0.9"/>
<line x1="149.62" y1="328.78" x2="154.02" y2="328.78" stroke="#222222" stroke-width="0.9"/>
<line x1="149.62" y1="333.50" x2="154.02" y2="333.50" stroke="#222222" stroke-width="0.9"/>
<text transform="translate(149.62,338.30) rotate(90)" textLength="42.0" lengthAdjust="spacingAndGlyphs" font-size="6.4" stroke="#111" stroke-width="0.45">Ntab0784850</text>
<rect x="160.14" y="332.08" width="4.22" height="1.42" fill="#333" stroke="#222222" stroke-width="0.9"/>
<text transform="translate(160.05,338.30) rotate(90)" textLength="42.0" lengthAdjust="spacingAndGlyphs" font-size="6.4" stroke="#111" stroke-width="0.45">Ntab0234340</text>
<rect x="170.57" y="331.14" width="4.22" height="2.36" fill="#333" stroke="#222222" stroke-width="0.9"/>
<line x1="172.68" y1="330.43" x2="172.68" y2="331.85" stroke="#222222" stroke-width="0.9"/>
<line x1="170.48" y1="330.43" x2="174.88" y2="330.43" stroke="#222222" stroke-width="0.9"/>
<line x1="170.48" y1="331.85" x2="174.88" y2="331.85" stroke="#222222" stroke-width="0.9"/>
<text transform="translate(170.48,338.30) rotate(90)" textLength="42.0" lengthAdjust="spacingAndGlyphs" font-size="6.4" stroke="#111" stroke-width="0.45">Ntab0820630</text>
<text x="47.6" y="220.7" font-size="13.5" font-weight="bold" stroke="#111" stroke-width="0.45">(e)</text>
<text x="70.5" y="399.0" textLength="80.6" lengthAdjust="spacingAndGlyphs" font-size="11.4" stroke="#111" stroke-width="0.3">Flowering stage</text>
<line x1="213.40" y1="216.60" x2="213.40" y2="336.40" stroke="#141414" stroke-width="1.25"/>
<line x1="209.40" y1="335.80" x2="344.50" y2="335.80" stroke="#141414" stroke-width="1.25"/>
<line x1="223.45" y1="335.80" x2="223.45" y2="338.60" stroke="#141414" stroke-width="1.0"/>
<line x1="233.49" y1="335.80" x2="233.49" y2="338.60" stroke="#141414" stroke-width="1.0"/>
<line x1="243.54" y1="335.80" x2="243.54" y2="338.60" stroke="#141414" stroke-width="1.0"/>
<line x1="253.58" y1="335.80" x2="253.58" y2="338.60" stroke="#141414" stroke-width="1.0"/>
<line x1="263.63" y1="335.80" x2="263.63" y2="338.60" stroke="#141414" stroke-width="1.0"/>
<line x1="273.68" y1="335.80" x2="273.68" y2="338.60" stroke="#141414" stroke-width="1.0"/>
<line x1="283.72" y1="335.80" x2="283.72" y2="338.60" stroke="#141414" stroke-width="1.0"/>
<line x1="293.77" y1="335.80" x2="293.77" y2="338.60" stroke="#141414" stroke-width="1.0"/>
<line x1="303.82" y1="335.80" x2="303.82" y2="338.60" stroke="#141414" stroke-width="1.0"/>
<line x1="313.86" y1="335.80" x2="313.86" y2="338.60" stroke="#141414" stroke-width="1.0"/>
<line x1="323.91" y1="335.80" x2="323.91" y2="338.60" stroke="#141414" stroke-width="1.0"/>
<line x1="333.95" y1="335.80" x2="333.95" y2="338.60" stroke="#141414" stroke-width="1.0"/>
<line x1="344.00" y1="335.80" x2="344.00" y2="338.60" stroke="#141414" stroke-width="1.0"/>
<line x1="209.40" y1="312.08" x2="213.40" y2="312.08" stroke="#141414" stroke-width="1.1"/>
<text x="188.2" y="315.5" textLength="14.2" lengthAdjust="spacingAndGlyphs" font-size="9.9" font-weight="bold" stroke="#111" stroke-width="0.3">0.2</text>
<line x1="209.40" y1="288.36" x2="213.40" y2="288.36" stroke="#141414" stroke-width="1.1"/>
<text x="188.2" y="291.8" textLength="14.2" lengthAdjust="spacingAndGlyphs" font-size="9.9" font-weight="bold" stroke="#111" stroke-width="0.3">0.4</text>
<line x1="209.40" y1="264.64" x2="213.40" y2="264.64" stroke="#141414" stroke-width="1.1"/>
<text x="188.2" y="268.0" textLength="14.2" lengthAdjust="spacingAndGlyphs" font-size="9.9" font-weight="bold" stroke="#111" stroke-width="0.3">0.6</text>
<line x1="209.40" y1="240.92" x2="213.40" y2="240.92" stroke="#141414" stroke-width="1.1"/>
<text x="188.2" y="244.3" textLength="14.2" lengthAdjust="spacingAndGlyphs" font-size="9.9" font-weight="bold" stroke="#111" stroke-width="0.3">0.8</text>
<line x1="209.40" y1="217.20" x2="213.40" y2="217.20" stroke="#141414" stroke-width="1.1"/>
<text x="202.4" y="220.6" text-anchor="end" font-size="9.9" font-weight="bold" stroke="#111" stroke-width="0.3">1</text>
<text x="202.4" y="339.2" text-anchor="end" font-size="9.9" font-weight="bold" stroke="#111" stroke-width="0.3">0</text>
<rect x="215.99" y="334.91" width="4.87" height="0.89" fill="#2a2a2a"/>
<text transform="translate(215.62,340.90) rotate(90)" textLength="42.3" lengthAdjust="spacingAndGlyphs" font-size="6.4" stroke="#111" stroke-width="0.45">Ntab0195900</text>
<rect x="226.43" y="244.48" width="4.07" height="91.32" fill="#7f7f7f" stroke="#222222" stroke-width="1.0"/>
<line x1="228.47" y1="227.52" x2="228.47" y2="261.44" stroke="#222222" stroke-width="0.9"/>
<line x1="226.27" y1="227.52" x2="230.67" y2="227.52" stroke="#222222" stroke-width="0.9"/>
<line x1="226.27" y1="261.44" x2="230.67" y2="261.44" stroke="#222222" stroke-width="0.9"/>
<text transform="translate(225.67,340.90) rotate(90)" textLength="42.3" lengthAdjust="spacingAndGlyphs" font-size="6.4" stroke="#111" stroke-width="0.45">Ntab0259170</text>
<rect x="236.48" y="317.42" width="4.07" height="18.38" fill="#7f7f7f" stroke="#222222" stroke-width="1.0"/>
<line x1="238.52" y1="311.84" x2="238.52" y2="322.99" stroke="#222222" stroke-width="0.9"/>
<line x1="236.32" y1="311.84" x2="240.72" y2="311.84" stroke="#222222" stroke-width="0.9"/>
<line x1="236.32" y1="322.99" x2="240.72" y2="322.99" stroke="#222222" stroke-width="0.9"/>
<text transform="translate(235.72,340.90) rotate(90)" textLength="42.3" lengthAdjust="spacingAndGlyphs" font-size="6.4" stroke="#111" stroke-width="0.45">Ntab0298870</text>
<rect x="246.13" y="335.14" width="4.87" height="0.66" fill="#2a2a2a"/>
<text transform="translate(245.76,340.90) rotate(90)" textLength="42.3" lengthAdjust="spacingAndGlyphs" font-size="6.4" stroke="#111" stroke-width="0.45">Ntab0288750</text>
<rect x="256.17" y="334.91" width="4.87" height="0.89" fill="#2a2a2a"/>
<text transform="translate(255.81,340.90) rotate(90)" textLength="42.3" lengthAdjust="spacingAndGlyphs" font-size="6.4" stroke="#111" stroke-width="0.45">Ntab0023590</text>
<rect x="266.62" y="323.35" width="4.07" height="12.45" fill="#7f7f7f" stroke="#222222" stroke-width="1.0"/>
<line x1="268.65" y1="321.57" x2="268.65" y2="325.13" stroke="#222222" stroke-width="0.9"/>
<line x1="266.45" y1="321.57" x2="270.85" y2="321.57" stroke="#222222" stroke-width="0.9"/>
<line x1="266.45" y1="325.13" x2="270.85" y2="325.13" stroke="#222222" stroke-width="0.9"/>
<text transform="translate(265.85,340.90) rotate(90)" textLength="42.3" lengthAdjust="spacingAndGlyphs" font-size="6.4" stroke="#111" stroke-width="0.45">Ntab0452620</text>
<rect x="276.27" y="335.14" width="4.87" height="0.66" fill="#2a2a2a"/>
<text transform="translate(275.90,340.90) rotate(90)" textLength="42.3" lengthAdjust="spacingAndGlyphs" font-size="6.4" stroke="#111" stroke-width="0.45">Ntab0298880</text>
<rect x="286.71" y="255.98" width="4.07" height="79.82" fill="#7f7f7f" stroke="#222222" stroke-width="1.0"/>
<line x1="288.75" y1="244.72" x2="288.75" y2="267.25" stroke="#222222" stroke-width="0.9"/>
<line x1="286.55" y1="244.72" x2="290.95" y2="244.72" stroke="#222222" stroke-width="0.9"/>
<line x1="286.55" y1="267.25" x2="290.95" y2="267.25" stroke="#222222" stroke-width="0.9"/>
<text transform="translate(285.95,340.90) rotate(90)" textLength="42.3" lengthAdjust="spacingAndGlyphs" font-size="6.4" stroke="#111" stroke-width="0.45">Ntab0259180</text>
<rect x="296.36" y="335.14" width="4.87" height="0.66" fill="#2a2a2a"/>
<text transform="translate(295.99,340.90) rotate(90)" textLength="42.3" lengthAdjust="spacingAndGlyphs" font-size="6.4" stroke="#111" stroke-width="0.45">Ntab0385170</text>
<rect x="306.40" y="335.14" width="4.87" height="0.66" fill="#2a2a2a"/>
<text transform="translate(306.04,340.90) rotate(90)" textLength="42.3" lengthAdjust="spacingAndGlyphs" font-size="6.4" stroke="#111" stroke-width="0.45">Ntab0594750</text>
<rect x="316.85" y="302.83" width="4.07" height="32.97" fill="#7f7f7f" stroke="#222222" stroke-width="1.0"/>
<line x1="318.88" y1="301.17" x2="318.88" y2="304.49" stroke="#222222" stroke-width="0.9"/>
<line x1="316.68" y1="301.17" x2="321.08" y2="301.17" stroke="#222222" stroke-width="0.9"/>
<line x1="316.68" y1="304.49" x2="321.08" y2="304.49" stroke="#222222" stroke-width="0.9"/>
<text transform="translate(316.08,340.90) rotate(90)" textLength="42.3" lengthAdjust="spacingAndGlyphs" font-size="6.4" stroke="#111" stroke-width="0.45">Ntab0784850</text>
<rect x="326.90" y="332.60" width="4.07" height="3.20" fill="#333" stroke="#222222" stroke-width="0.9"/>
<text transform="translate(326.13,340.90) rotate(90)" textLength="42.3" lengthAdjust="spacingAndGlyphs" font-size="6.4" stroke="#111" stroke-width="0.45">Ntab0234340</text>
<rect x="336.94" y="323.11" width="4.07" height="12.69" fill="#7f7f7f" stroke="#222222" stroke-width="1.0"/>
<line x1="338.98" y1="321.21" x2="338.98" y2="325.01" stroke="#222222" stroke-width="0.9"/>
<line x1="336.78" y1="321.21" x2="341.18" y2="321.21" stroke="#222222" stroke-width="0.9"/>
<line x1="336.78" y1="325.01" x2="341.18" y2="325.01" stroke="#222222" stroke-width="0.9"/>
<text transform="translate(336.18,340.90) rotate(90)" textLength="42.3" lengthAdjust="spacingAndGlyphs" font-size="6.4" stroke="#111" stroke-width="0.45">Ntab0820630</text>
<text x="220.0" y="220.7" font-size="13.5" font-weight="bold" stroke="#111" stroke-width="0.45">(f)</text>
<text x="246.6" y="399.0" textLength="72.7" lengthAdjust="spacingAndGlyphs" font-size="11.4" stroke="#111" stroke-width="0.3">Topping stage</text>
<line x1="381.80" y1="215.80" x2="381.80" y2="336.60" stroke="#202020" stroke-width="1.25"/>
<line x1="377.80" y1="336.00" x2="510.10" y2="336.00" stroke="#202020" stroke-width="1.25"/>
<line x1="391.63" y1="336.00" x2="391.63" y2="338.80" stroke="#202020" stroke-width="1.0"/>
<line x1="401.46" y1="336.00" x2="401.46" y2="338.80" stroke="#202020" stroke-width="1.0"/>
<line x1="411.29" y1="336.00" x2="411.29" y2="338.80" stroke="#202020" stroke-width="1.0"/>
<line x1="421.12" y1="336.00" x2="421.12" y2="338.80" stroke="#202020" stroke-width="1.0"/>
<line x1="430.95" y1="336.00" x2="430.95" y2="338.80" stroke="#202020" stroke-width="1.0"/>
<line x1="440.78" y1="336.00" x2="440.78" y2="338.80" stroke="#202020" stroke-width="1.0"/>
<line x1="450.62" y1="336.00" x2="450.62" y2="338.80" stroke="#202020" stroke-width="1.0"/>
<line x1="460.45" y1="336.00" x2="460.45" y2="338.80" stroke="#202020" stroke-width="1.0"/>
<line x1="470.28" y1="336.00" x2="470.28" y2="338.80" stroke="#202020" stroke-width="1.0"/>
<line x1="480.11" y1="336.00" x2="480.11" y2="338.80" stroke="#202020" stroke-width="1.0"/>
<line x1="489.94" y1="336.00" x2="489.94" y2="338.80" stroke="#202020" stroke-width="1.0"/>
<line x1="499.77" y1="336.00" x2="499.77" y2="338.80" stroke="#202020" stroke-width="1.0"/>
<line x1="509.60" y1="336.00" x2="509.60" y2="338.80" stroke="#202020" stroke-width="1.0"/>
<line x1="377.80" y1="312.08" x2="381.80" y2="312.08" stroke="#202020" stroke-width="1.1"/>
<text x="357.9" y="315.5" textLength="14.2" lengthAdjust="spacingAndGlyphs" font-size="9.9" font-weight="bold" stroke="#111" stroke-width="0.3">0.2</text>
<line x1="377.80" y1="288.16" x2="381.80" y2="288.16" stroke="#202020" stroke-width="1.1"/>
<text x="357.9" y="291.6" textLength="14.2" lengthAdjust="spacingAndGlyphs" font-size="9.9" font-weight="bold" stroke="#111" stroke-width="0.3">0.4</text>
<line x1="377.80" y1="264.24" x2="381.80" y2="264.24" stroke="#202020" stroke-width="1.1"/>
<text x="357.9" y="267.6" textLength="14.2" lengthAdjust="spacingAndGlyphs" font-size="9.9" font-weight="bold" stroke="#111" stroke-width="0.3">0.6</text>
<line x1="377.80" y1="240.32" x2="381.80" y2="240.32" stroke="#202020" stroke-width="1.1"/>
<text x="357.9" y="243.7" textLength="14.2" lengthAdjust="spacingAndGlyphs" font-size="9.9" font-weight="bold" stroke="#111" stroke-width="0.3">0.8</text>
<line x1="377.80" y1="216.40" x2="381.80" y2="216.40" stroke="#202020" stroke-width="1.1"/>
<text x="372.1" y="219.8" text-anchor="end" font-size="9.9" font-weight="bold" stroke="#111" stroke-width="0.3">1</text>
<text x="372.1" y="339.4" text-anchor="end" font-size="9.9" font-weight="bold" stroke="#111" stroke-width="0.3">0</text>
<rect x="384.32" y="335.10" width="4.78" height="0.90" fill="#2a2a2a"/>
<text transform="translate(384.22,340.90) rotate(90)" textLength="42.3" lengthAdjust="spacingAndGlyphs" font-size="6.4" stroke="#111" stroke-width="0.45">Ntab0195900</text>
<rect x="394.56" y="277.52" width="3.98" height="58.48" fill="#7f7f7f" stroke="#222222" stroke-width="1.0"/>
<line x1="396.55" y1="275.60" x2="396.55" y2="279.43" stroke="#222222" stroke-width="0.9"/>
<line x1="394.35" y1="275.60" x2="398.75" y2="275.60" stroke="#222222" stroke-width="0.9"/>
<line x1="394.35" y1="279.43" x2="398.75" y2="279.43" stroke="#222222" stroke-width="0.9"/>
<text transform="translate(394.05,340.90) rotate(90)" textLength="42.3" lengthAdjust="spacingAndGlyphs" font-size="6.4" stroke="#111" stroke-width="0.45">Ntab0259170</text>
<rect x="404.39" y="325.71" width="3.98" height="10.29" fill="#7f7f7f" stroke="#222222" stroke-width="1.0"/>
<line x1="406.38" y1="323.32" x2="406.38" y2="328.11" stroke="#222222" stroke-width="0.9"/>
<line x1="404.18" y1="323.32" x2="408.58" y2="323.32" stroke="#222222" stroke-width="0.9"/>
<line x1="404.18" y1="328.11" x2="408.58" y2="328.11" stroke="#222222" stroke-width="0.9"/>
<text transform="translate(403.88,340.90) rotate(90)" textLength="42.3" lengthAdjust="spacingAndGlyphs" font-size="6.4" stroke="#111" stroke-width="0.45">Ntab0298870</text>
<rect x="413.82" y="335.34" width="4.78" height="0.66" fill="#2a2a2a"/>
<text transform="translate(413.71,340.90) rotate(90)" textLength="42.3" lengthAdjust="spacingAndGlyphs" font-size="6.4" stroke="#111" stroke-width="0.45">Ntab0288750</text>
<rect x="423.65" y="334.50" width="4.78" height="1.50" fill="#2a2a2a"/>
<text transform="translate(423.54,340.90) rotate(90)" textLength="42.3" lengthAdjust="spacingAndGlyphs" font-size="6.4" stroke="#111" stroke-width="0.45">Ntab0023590</text>
<rect x="433.88" y="334.56" width="3.98" height="1.44" fill="#333" stroke="#222222" stroke-width="0.9"/>
<line x1="435.87" y1="332.17" x2="435.87" y2="336.00" stroke="#222222" stroke-width="0.9"/>
<line x1="433.67" y1="332.17" x2="438.07" y2="332.17" stroke="#222222" stroke-width="0.9"/>
<line x1="433.67" y1="336.00" x2="438.07" y2="336.00" stroke="#222222" stroke-width="0.9"/>
<text transform="translate(433.37,340.90) rotate(90)" textLength="42.3" lengthAdjust="spacingAndGlyphs" font-size="6.4" stroke="#111" stroke-width="0.45">Ntab0452620</text>
<rect x="443.31" y="335.34" width="4.78" height="0.66" fill="#2a2a2a"/>
<text transform="translate(443.20,340.90) rotate(90)" textLength="42.3" lengthAdjust="spacingAndGlyphs" font-size="6.4" stroke="#111" stroke-width="0.45">Ntab0298880</text>
<rect x="453.54" y="280.51" width="3.98" height="55.49" fill="#7f7f7f" stroke="#222222" stroke-width="1.0"/>
<line x1="455.53" y1="272.97" x2="455.53" y2="288.04" stroke="#222222" stroke-width="0.9"/>
<line x1="453.33" y1="272.97" x2="457.73" y2="272.97" stroke="#222222" stroke-width="0.9"/>
<line x1="453.33" y1="288.04" x2="457.73" y2="288.04" stroke="#222222" stroke-width="0.9"/>
<text transform="translate(453.03,340.90) rotate(90)" textLength="42.3" lengthAdjust="spacingAndGlyphs" font-size="6.4" stroke="#111" stroke-width="0.45">Ntab0259180</text>
<rect x="462.97" y="335.34" width="4.78" height="0.66" fill="#2a2a2a"/>
<text transform="translate(462.86,340.90) rotate(90)" textLength="42.3" lengthAdjust="spacingAndGlyphs" font-size="6.4" stroke="#111" stroke-width="0.45">Ntab0385170</text>
<rect x="473.20" y="333.85" width="3.98" height="2.15" fill="#333" stroke="#222222" stroke-width="0.9"/>
<text transform="translate(472.69,340.90) rotate(90)" textLength="42.3" lengthAdjust="spacingAndGlyphs" font-size="6.4" stroke="#111" stroke-width="0.45">Ntab0594750</text>
<rect x="483.03" y="323.68" width="3.98" height="12.32" fill="#7f7f7f" stroke="#222222" stroke-width="1.0"/>
<line x1="485.02" y1="323.08" x2="485.02" y2="324.28" stroke="#222222" stroke-width="0.9"/>
<line x1="482.82" y1="323.08" x2="487.22" y2="323.08" stroke="#222222" stroke-width="0.9"/>
<line x1="482.82" y1="324.28" x2="487.22" y2="324.28" stroke="#222222" stroke-width="0.9"/>
<text transform="translate(482.52,340.90) rotate(90)" textLength="42.3" lengthAdjust="spacingAndGlyphs" font-size="6.4" stroke="#111" stroke-width="0.45">Ntab0784850</text>
<rect x="492.86" y="331.10" width="3.98" height="4.90" fill="#7f7f7f" stroke="#222222" stroke-width="1.0"/>
<line x1="494.85" y1="328.11" x2="494.85" y2="334.09" stroke="#222222" stroke-width="0.9"/>
<line x1="492.65" y1="328.11" x2="497.05" y2="328.11" stroke="#222222" stroke-width="0.9"/>
<line x1="492.65" y1="334.09" x2="497.05" y2="334.09" stroke="#222222" stroke-width="0.9"/>
<text transform="translate(492.35,340.90) rotate(90)" textLength="42.3" lengthAdjust="spacingAndGlyphs" font-size="6.4" stroke="#111" stroke-width="0.45">Ntab0234340</text>
<rect x="502.69" y="328.70" width="3.98" height="7.30" fill="#7f7f7f" stroke="#222222" stroke-width="1.0"/>
<line x1="504.68" y1="325.12" x2="504.68" y2="332.29" stroke="#222222" stroke-width="0.9"/>
<line x1="502.48" y1="325.12" x2="506.88" y2="325.12" stroke="#222222" stroke-width="0.9"/>
<line x1="502.48" y1="332.29" x2="506.88" y2="332.29" stroke="#222222" stroke-width="0.9"/>
<text transform="translate(502.18,340.90) rotate(90)" textLength="42.3" lengthAdjust="spacingAndGlyphs" font-size="6.4" stroke="#111" stroke-width="0.45">Ntab0820630</text>
<text x="387.4" y="220.7" font-size="13.5" font-weight="bold" stroke="#111" stroke-width="0.45">(g)</text>
<text x="428.0" y="399.0" textLength="38.3" lengthAdjust="spacingAndGlyphs" font-size="11.4" stroke="#111" stroke-width="0.3">Mature</text>
<text transform="translate(10.5,113.9) rotate(-90)" textLength="99.8" lengthAdjust="spacingAndGlyphs" font-size="10.8" stroke="#111" stroke-width="0.25">Relative expression</text>
<text transform="translate(10.3,329.45) rotate(-90)" textLength="99.8" lengthAdjust="spacingAndGlyphs" font-size="10.8" stroke="#111" stroke-width="0.25">Relative expression</text>
<line x1="549.90" y1="216.70" x2="549.90" y2="337.10" stroke="#555" stroke-width="1.4"/>
<line x1="545.90" y1="336.50" x2="683.70" y2="336.50" stroke="#222" stroke-width="1.25"/>
<line x1="568.94" y1="336.50" x2="568.94" y2="339.70" stroke="#1c1c1c" stroke-width="1.0"/>
<line x1="587.99" y1="336.50" x2="587.99" y2="339.70" stroke="#1c1c1c" stroke-width="1.0"/>
<line x1="607.03" y1="336.50" x2="607.03" y2="339.70" stroke="#1c1c1c" stroke-width="1.0"/>
<line x1="626.07" y1="336.50" x2="626.07" y2="339.70" stroke="#1c1c1c" stroke-width="1.0"/>
<line x1="645.11" y1="336.50" x2="645.11" y2="339.70" stroke="#1c1c1c" stroke-width="1.0"/>
<line x1="664.16" y1="336.50" x2="664.16" y2="339.70" stroke="#1c1c1c" stroke-width="1.0"/>
<line x1="683.20" y1="336.50" x2="683.20" y2="339.70" stroke="#1c1c1c" stroke-width="1.0"/>
<line x1="545.90" y1="296.77" x2="549.90" y2="296.77" stroke="#333" stroke-width="1.1"/>
<text x="525.9" y="300.2" textLength="14.2" lengthAdjust="spacingAndGlyphs" font-size="9.9" font-weight="bold" stroke="#111" stroke-width="0.3">0.3</text>
<line x1="545.90" y1="257.03" x2="549.90" y2="257.03" stroke="#333" stroke-width="1.1"/>
<text x="525.9" y="260.4" textLength="14.2" lengthAdjust="spacingAndGlyphs" font-size="9.9" font-weight="bold" stroke="#111" stroke-width="0.3">0.6</text>
<line x1="545.90" y1="217.30" x2="549.90" y2="217.30" stroke="#333" stroke-width="1.1"/>
<text x="525.9" y="220.7" textLength="14.2" lengthAdjust="spacingAndGlyphs" font-size="9.9" font-weight="bold" stroke="#111" stroke-width="0.3">0.9</text>
<text x="540.1" y="339.9" text-anchor="end" font-size="9.9" font-weight="bold" stroke="#111" stroke-width="0.3">0</text>
<rect x="554.22" y="315.44" width="5.4" height="21.06" fill="#8a8a8a" stroke="#222222" stroke-width="0.9"/>
<rect x="559.82" y="308.55" width="5.7" height="27.95" fill="#000"/>
<line x1="556.92" y1="309.88" x2="556.92" y2="321.00" stroke="#222222" stroke-width="0.9"/>
<line x1="554.72" y1="309.88" x2="559.12" y2="309.88" stroke="#222222" stroke-width="0.9"/>
<line x1="554.72" y1="321.00" x2="559.12" y2="321.00" stroke="#222222" stroke-width="0.9"/>
<line x1="562.42" y1="295.57" x2="562.42" y2="308.55" stroke="#222222" stroke-width="0.9"/>
<line x1="560.22" y1="295.57" x2="564.62" y2="295.57" stroke="#222222" stroke-width="0.9"/>
<text x="556.9" y="355.1" textLength="5.1" lengthAdjust="spacingAndGlyphs" font-size="9.8" font-weight="bold" stroke="#111" stroke-width="0.25">S</text>
<rect x="573.26" y="323.52" width="5.4" height="12.98" fill="#8a8a8a" stroke="#222222" stroke-width="0.9"/>
<rect x="578.86" y="302.73" width="5.7" height="33.77" fill="#000"/>
<line x1="575.96" y1="321.53" x2="575.96" y2="325.51" stroke="#222222" stroke-width="0.9"/>
<line x1="573.76" y1="321.53" x2="578.16" y2="321.53" stroke="#222222" stroke-width="0.9"/>
<line x1="573.76" y1="325.51" x2="578.16" y2="325.51" stroke="#222222" stroke-width="0.9"/>
<line x1="581.46" y1="294.38" x2="581.46" y2="302.73" stroke="#222222" stroke-width="0.9"/>
<line x1="579.26" y1="294.38" x2="583.66" y2="294.38" stroke="#222222" stroke-width="0.9"/>
<text x="573.2" y="355.1" textLength="10.6" lengthAdjust="spacingAndGlyphs" font-size="9.8" font-weight="bold" stroke="#111" stroke-width="0.25">Rs</text>
<rect x="592.31" y="289.22" width="5.4" height="47.28" fill="#8a8a8a" stroke="#222222" stroke-width="0.9"/>
<rect x="597.91" y="321.53" width="5.7" height="14.97" fill="#000"/>
<line x1="595.01" y1="281.27" x2="595.01" y2="297.16" stroke="#222222" stroke-width="0.9"/>
<line x1="592.81" y1="281.27" x2="597.21" y2="281.27" stroke="#222222" stroke-width="0.9"/>
<line x1="592.81" y1="297.16" x2="597.21" y2="297.16" stroke="#222222" stroke-width="0.9"/>
<line x1="600.51" y1="317.16" x2="600.51" y2="321.53" stroke="#222222" stroke-width="0.9"/>
<line x1="598.31" y1="317.16" x2="602.71" y2="317.16" stroke="#222222" stroke-width="0.9"/>
<text x="591.9" y="355.1" textLength="11.2" lengthAdjust="spacingAndGlyphs" font-size="9.8" font-weight="bold" stroke="#111" stroke-width="0.25">Vs</text>
<rect x="611.35" y="308.69" width="5.4" height="27.81" fill="#8a8a8a" stroke="#222222" stroke-width="0.9"/>
<rect x="616.95" y="298.36" width="5.7" height="38.14" fill="#000"/>
<line x1="614.05" y1="305.11" x2="614.05" y2="312.26" stroke="#222222" stroke-width="0.9"/>
<line x1="611.85" y1="305.11" x2="616.25" y2="305.11" stroke="#222222" stroke-width="0.9"/>
<line x1="611.85" y1="312.26" x2="616.25" y2="312.26" stroke="#222222" stroke-width="0.9"/>
<line x1="619.55" y1="292.40" x2="619.55" y2="298.36" stroke="#222222" stroke-width="0.9"/>
<line x1="617.35" y1="292.40" x2="621.75" y2="292.40" stroke="#222222" stroke-width="0.9"/>
<text x="611.1" y="355.1" textLength="10.9" lengthAdjust="spacingAndGlyphs" font-size="9.8" font-weight="bold" stroke="#111" stroke-width="0.25">Bs</text>
<rect x="630.39" y="250.94" width="5.4" height="85.56" fill="#8a8a8a" stroke="#222222" stroke-width="0.9"/>
<rect x="635.99" y="314.78" width="5.7" height="21.72" fill="#000"/>
<line x1="633.09" y1="248.56" x2="633.09" y2="253.32" stroke="#222222" stroke-width="0.9"/>
<line x1="630.89" y1="248.56" x2="635.29" y2="248.56" stroke="#222222" stroke-width="0.9"/>
<line x1="630.89" y1="253.32" x2="635.29" y2="253.32" stroke="#222222" stroke-width="0.9"/>
<line x1="638.59" y1="312.40" x2="638.59" y2="314.78" stroke="#222222" stroke-width="0.9"/>
<line x1="636.39" y1="312.40" x2="640.79" y2="312.40" stroke="#222222" stroke-width="0.9"/>
<text x="630.5" y="355.1" textLength="10.2" lengthAdjust="spacingAndGlyphs" font-size="9.8" font-weight="bold" stroke="#111" stroke-width="0.25">Fs</text>
<rect x="649.44" y="234.65" width="5.4" height="101.85" fill="#8a8a8a" stroke="#222222" stroke-width="0.9"/>
<rect x="655.04" y="247.76" width="5.7" height="88.74" fill="#000"/>
<line x1="652.14" y1="230.68" x2="652.14" y2="238.62" stroke="#222222" stroke-width="0.9"/>
<line x1="649.94" y1="230.68" x2="654.34" y2="230.68" stroke="#222222" stroke-width="0.9"/>
<line x1="649.94" y1="238.62" x2="654.34" y2="238.62" stroke="#222222" stroke-width="0.9"/>
<line x1="657.64" y1="243.52" x2="657.64" y2="247.76" stroke="#222222" stroke-width="0.9"/>
<line x1="655.44" y1="243.52" x2="659.84" y2="243.52" stroke="#222222" stroke-width="0.9"/>
<text x="649.5" y="355.1" textLength="10.3" lengthAdjust="spacingAndGlyphs" font-size="9.8" font-weight="bold" stroke="#111" stroke-width="0.25">Ts</text>
<rect x="668.48" y="271.60" width="5.4" height="64.90" fill="#8a8a8a" stroke="#222222" stroke-width="0.9"/>
<rect x="674.08" y="275.44" width="5.7" height="61.06" fill="#000"/>
<line x1="671.18" y1="269.35" x2="671.18" y2="273.85" stroke="#222222" stroke-width="0.9"/>
<line x1="668.98" y1="269.35" x2="673.38" y2="269.35" stroke="#222222" stroke-width="0.9"/>
<line x1="668.98" y1="273.85" x2="673.38" y2="273.85" stroke="#222222" stroke-width="0.9"/>
<line x1="676.68" y1="270.94" x2="676.68" y2="275.44" stroke="#222222" stroke-width="0.9"/>
<line x1="674.48" y1="270.94" x2="678.88" y2="270.94" stroke="#222222" stroke-width="0.9"/>
<text x="668.9" y="355.1" textLength="9.6" lengthAdjust="spacingAndGlyphs" font-size="9.8" font-weight="bold" stroke="#111" stroke-width="0.25">M</text>
<text x="555.5" y="220.7" font-size="13.5" font-weight="bold" stroke="#111" stroke-width="0.45">(h)</text>
<rect x="561.7" y="230.5" width="4.8" height="4.8" fill="#7f7f7f" stroke="#222222" stroke-width="0.9"/>
<rect x="561.3" y="241.5" width="5.6" height="5.6" fill="#000"/>
<text x="569.6" y="236.0" textLength="53" lengthAdjust="spacingAndGlyphs" font-size="8.7" font-weight="bold" stroke="#111" stroke-width="0.15">Ntab0259170</text>
<text x="569.6" y="247.3" textLength="53" lengthAdjust="spacingAndGlyphs" font-size="8.7" font-weight="bold" stroke="#111" stroke-width="0.15">Ntab0259180</text>
</svg>
</body>
</html>
